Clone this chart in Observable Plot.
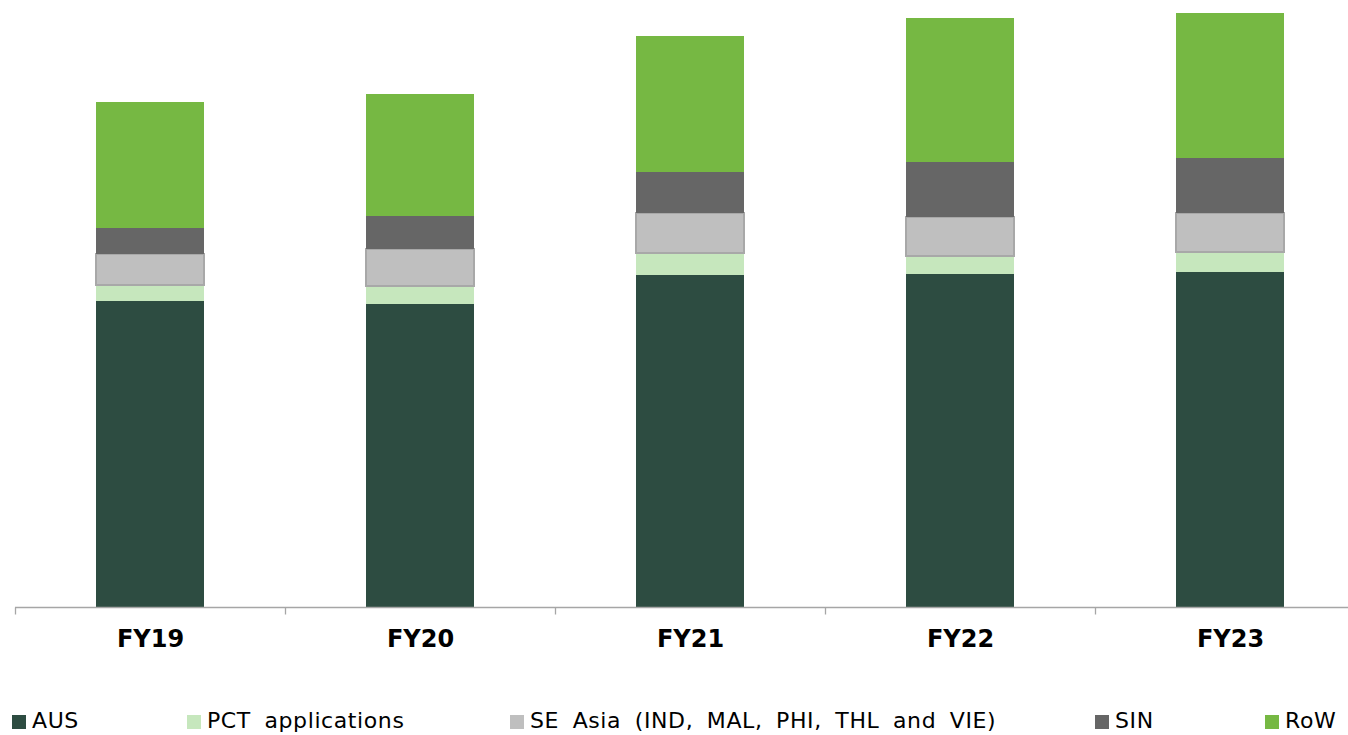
<!DOCTYPE html>
<html>
<head>
<meta charset="utf-8">
<script src="https://cdn.jsdelivr.net/npm/d3@7"></script>
<script src="https://cdn.jsdelivr.net/npm/@observablehq/plot@0.6"></script>
<style>
  html, body { margin: 0; padding: 0; background: #fff; }
  #chart { position: relative; width: 1348px; height: 735px; overflow: hidden; }
  #legend { position: absolute; left: 0; top: 690px; width: 1348px; height: 45px;
            font-family: "DejaVu Sans", Verdana, sans-serif; font-size: 22px; color: #000;
            letter-spacing: 0.6px; word-spacing: 6px; }
  .item { position: absolute; top: 18px; display: flex; align-items: center; white-space: nowrap; }
  .sw { width: 14px; height: 14px; margin-right: 6px; margin-top: 3px; }
</style>
</head>
<body>
<div id="chart"></div>
<script>
// Filing volumes by fiscal year, stacked by destination
const years = ["FY19", "FY20", "FY21", "FY22", "FY23"];
const seriesNames = ["AUS", "PCT applications", "SE Asia (IND, MAL, PHI, THL and VIE)", "SIN", "RoW"];
const aus = [306, 303, 332, 333, 335];
const pct = [16, 18, 22, 18, 20];
const seAsia = [31, 37, 40, 39, 39];
const sin = [26, 33, 41, 55, 55];
const row = [126, 122, 136, 144, 145];
const colors = ["#2d4c41", "#c6e7bd", "#bfbfbf", "#666666", "#76b843"];

const valuesBySeries = [aus, pct, seAsia, sin, row];
const data = [];
years.forEach((y, i) => {
  seriesNames.forEach((s, j) => data.push({year: y, series: s, value: valuesBySeries[j][i]}));
});

const W = 1348, H = 690;

// category axis: baseline plus boundary ticks between the bars
function categoryAxis(index, scales) {
  const g = d3.create("svg:g").attr("stroke", "#a6a6a6").attr("stroke-width", 1.3);
  const y0 = Math.round(scales.y(0)) + 0.5;
  const step = scales.x.step();
  const start = scales.x(years[0]) - scales.x.bandwidth() / 2 * 0 - step * 0.3;
  g.append("line").attr("x1", start).attr("x2", W).attr("y1", y0).attr("y2", y0);
  for (let i = 0; i <= years.length; i++) {
    const px = Math.round(start + step * i) + 0.5;
    g.append("line").attr("x1", px).attr("x2", px).attr("y1", y0).attr("y2", y0 + 7);
  }
  return g.node();
}

const plot = Plot.plot({
  width: W,
  height: H,
  marginLeft: 15,
  marginRight: 0,
  marginTop: 7,
  marginBottom: 83,
  x: {domain: years, range: [15, 1365], paddingInner: 0.6, paddingOuter: 0.3, axis: null},
  y: {domain: [0, 600], axis: null},
  color: {domain: seriesNames, range: colors},
  style: {fontFamily: "DejaVu Sans, Verdana, sans-serif", background: "#fff"},
  marks: [
    Plot.barY(data, Plot.stackY({
      x: "year", y: "value", fill: "series", z: "series", order: seriesNames,
      stroke: d => d.series.startsWith("SE Asia") ? "#a8a8a8" : "none",
      strokeWidth: 2
    })),
    categoryAxis,
    Plot.text(years, {
      x: d => d, y: 0, dy: 32, text: d => d,
      fontSize: 24, fontWeight: "bold", fill: "#000"
    })
  ]
});

const chart = document.getElementById("chart");
chart.appendChild(plot);

// Legend row under the plot
const legendX = [12, 187, 510, 1095, 1265];
const legend = document.createElement("div");
legend.id = "legend";
seriesNames.forEach((s, j) => {
  const item = document.createElement("div");
  item.className = "item";
  item.style.left = legendX[j] + "px";
  const sw = document.createElement("span");
  sw.className = "sw";
  sw.style.background = colors[j];
  const t = document.createElement("span");
  t.textContent = s;
  item.appendChild(sw);
  item.appendChild(t);
  legend.appendChild(item);
});
chart.appendChild(legend);
</script>
</body>
</html>
